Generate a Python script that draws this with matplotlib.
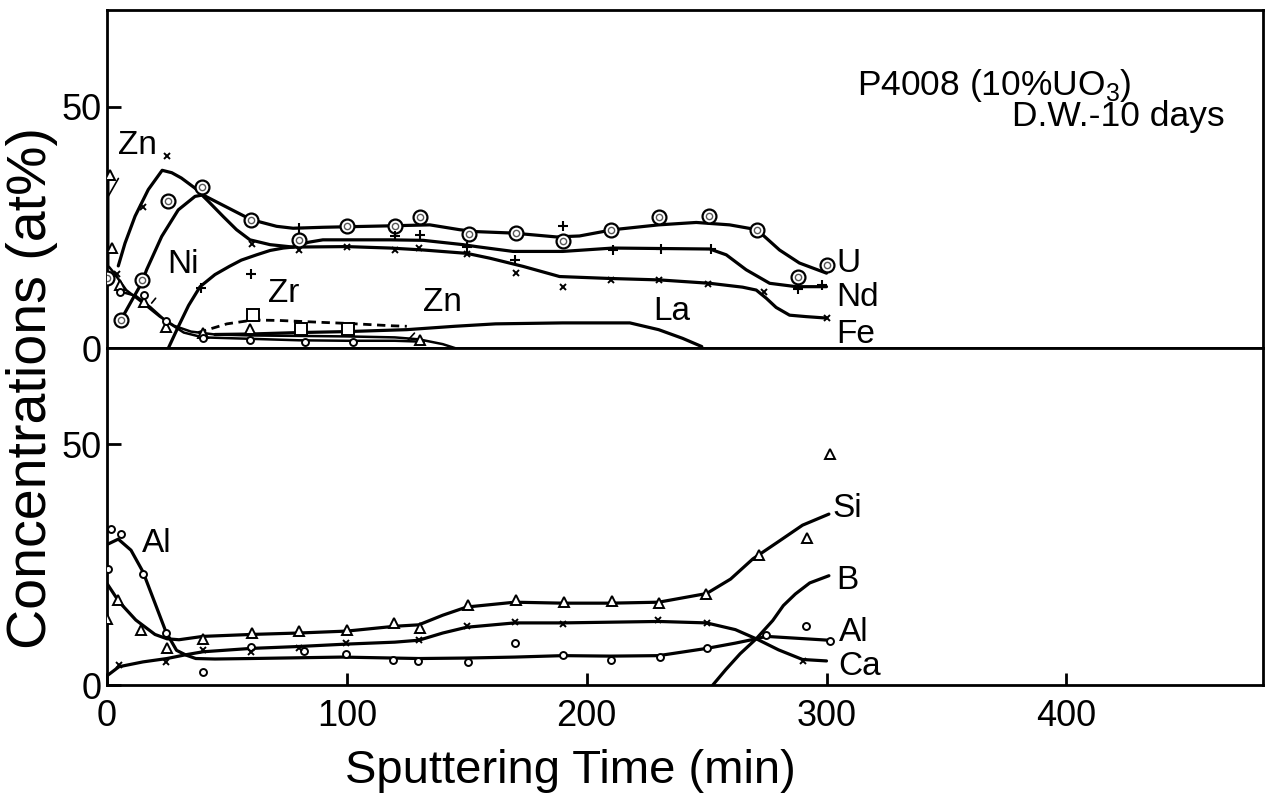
import matplotlib
matplotlib.use('Agg')
import matplotlib.pyplot as plt

plt.rcParams['font.family'] = ['Liberation Sans', 'DejaVu Sans']
plt.rcParams['mathtext.fontset'] = 'custom'
plt.rcParams['mathtext.rm'] = 'Liberation Sans'

# ---- upper panel: U, Nd, Fe, Zn, Ni, Zr, La ----
u_x = [0, 6, 14.4, 25.5, 39.7, 60, 80, 100, 120, 130.4, 150.8, 170.4, 190, 210, 230, 251, 271, 288, 300]
u_y = [14.5, 5.7, 14.1, 30.5, 33.4, 26.6, 22.4, 25.3, 25.2, 27.2, 23.6, 23.9, 22.2, 24.5, 27.2, 27.4, 24.5, 14.8, 17.2]
u_line_x = [6, 10.5, 14.5, 16.5, 22.8, 29.7, 36.7, 40, 49, 60, 70.7, 77.6, 90, 118, 134.6, 147, 154,
            169.3, 187.4, 197, 211, 230, 245.7, 259.6, 271, 280.4, 288.7, 300]
u_line_y = [6.0, 10, 13.5, 16.2, 23.1, 28.6, 31.4, 31.7, 29.4, 26.6, 25.2, 24.8, 25.0, 25.3, 25.5, 24.5, 24.1,
            23.8, 23.0, 23.2, 24.5, 25.5, 26.0, 25.5, 24.5, 20.3, 17.6, 15.5]

fe_x = [4, 15, 25, 60.4, 80, 100, 120, 130, 150, 170.4, 190, 210, 230, 250.4, 274, 300]
fe_y = [15.3, 29.1, 39.7, 21.6, 20.3, 21, 20.3, 20.7, 19.5, 15.6, 12.7, 14.1, 14.1, 13.3, 11.6, 6.2]
fe_line_x = [4.7, 7.5, 11.7, 17.2, 23, 27, 31, 36.7, 42, 48.5, 54, 59.6, 68, 77.6, 100, 118, 131.8, 150,
             159.6, 173.5, 188.7, 209.6, 230.4, 251.3, 265, 270.7, 274.9, 279, 284.6, 291.5, 300]
fe_line_y = [17, 21.7, 27.3, 32.8, 36.8, 36.3, 35.2, 33.1, 30.5, 27.2, 24.5, 22.4, 21.4, 20.9, 21, 20.7, 20.3, 19.6,
             18.6, 16.9, 14.8, 14.4, 14.1, 13.4, 12.6, 12, 10.3, 8.4, 6.8, 6.5, 6.2]

nd_x = [39, 60, 80, 120, 130.7, 150, 170, 190, 211, 231, 251.7, 288, 298]
nd_y = [12.4, 15.4, 24.8, 23.1, 23.4, 21, 18.3, 25.3, 20.3, 20.5, 20.5, 12.2, 13.1]
nd_line_x = [25.6, 29.7, 34, 38.8, 45, 51, 56, 62.4, 68, 73.5, 77.6, 84, 90, 118, 131.8, 148.5, 154,
             169.3, 190, 211, 251.3, 258.2, 266.5, 276.3, 287.4, 300]
nd_line_y = [0, 4.4, 8.8, 12.7, 15.2, 16.9, 18.2, 19.3, 20.2, 20.7, 20.9, 21.9, 22.4, 22.4, 22.3, 21.4, 21.0,
             20.0, 20.0, 20.7, 20.5, 19.3, 16.2, 13.4, 12.7, 12.7]

zn_x = [1.2, 1.9, 5.4, 15.5, 24.4, 40, 59.6, 130.4]
zn_y = [35.9, 20.7, 13.1, 9.6, 4.4, 3.2, 3.9, 1.7]
zn_line_x = [0.5, 0.5, 3, 8, 15, 22, 28, 35, 45, 60, 80, 100, 120, 130, 140, 145]
zn_line_y = [35, 17, 15.5, 12, 9.3, 6.5, 4.6, 3.4, 2.8, 2.6, 2.5, 2.4, 2.2, 1.8, 0.8, 0]

ni_x = [5.4, 15.5, 24.4, 40, 59.6, 82.5, 102.6]
ni_y = [11.7, 11.0, 5.5, 2.0, 1.7, 1.3, 1.3]
ni_line_x = [5.5, 12, 18, 24.5, 32, 40, 60, 80, 100, 120, 132]
ni_line_y = [11.7, 10.8, 8.5, 5.6, 3.2, 2.2, 1.9, 1.6, 1.5, 1.5, 1.3]

zr_x = [61, 81, 100.6]
zr_y = [6.8, 3.9, 3.9]
zr_line_x = [38, 50, 61, 72, 90, 100, 119, 125]
zr_line_y = [3.2, 5.0, 5.8, 5.7, 5.3, 5.1, 4.6, 4.5]

la_line_x = [45, 60, 80, 100, 125, 145, 162, 190, 218, 230, 240, 248]
la_line_y = [2.8, 2.9, 3.2, 3.4, 3.8, 4.5, 5.0, 5.2, 5.2, 3.8, 2.0, 0.3]

# ---- lower panel: Si, B, Al, Ca ----
si_x = [0.1, 4.7, 14, 24.9, 40, 60.3, 80, 99.9, 119.6, 130.4, 150.5, 170.4, 190.5, 210.7, 230, 249.9, 271.8, 291.8, 301.3]
si_y = [13.8, 17.6, 11.5, 7.7, 9.6, 10.7, 11.2, 11.4, 12.9, 11.9, 16.7, 17.7, 17.2, 17.4, 17.0, 18.9, 27.1, 30.5, 48.0]
si_line_x = [0.1, 5, 12, 20, 25, 30, 40, 60, 80, 100, 120, 130, 140, 150, 170, 190, 210, 230, 250, 260, 269.3, 280, 290, 301]
si_line_y = [21, 17.3, 13.5, 10.5, 9.6, 9.4, 10.1, 10.5, 10.8, 11.2, 12.2, 12.5, 14.5, 16.2, 17.2, 17.0, 17.0, 17.2,
             19.0, 22, 26.2, 29.8, 33.2, 35.5]

al_x = [0.5, 1.5, 5.7, 15, 24.6, 40, 60, 82, 99.6, 119.3, 129.7, 150.5, 170, 190, 210, 230.4, 250, 274.9, 291.5, 301.3]
al_y = [24.1, 32.4, 31.3, 23.1, 10.7, 2.75, 7.9, 7.0, 6.5, 5.2, 5.0, 4.8, 8.7, 6.2, 5.2, 5.9, 7.6, 10.3, 12.2, 9.2]
al_line_x = [0.5, 4.7, 10, 15, 20, 24.6, 29, 33, 37, 45, 60, 98, 130, 150, 170, 190, 210, 230, 250, 262, 270.7, 274.9, 301]
al_line_y = [29.3, 30.3, 28.0, 23.5, 17.0, 11.0, 7.2, 6.2, 5.5, 5.4, 5.5, 5.8, 5.5, 5.6, 5.8, 6.1, 6.0, 6.1, 7.6, 8.7,
             9.6, 10.1, 9.3]

ca_x = [5, 24.6, 40, 60, 80, 99.6, 130, 150, 170, 190, 229.7, 250, 290]
ca_y = [4.1, 4.8, 7.2, 6.8, 7.6, 8.7, 9.3, 12.2, 13.1, 12.7, 13.6, 12.9, 5.0]
ca_line_x = [0.5, 5, 15, 25, 33, 40, 60, 80, 100, 120, 130, 140, 150, 170, 190, 230, 250, 262, 270.7, 280, 290, 300]
ca_line_y = [2.1, 3.8, 4.8, 5.5, 6.3, 6.9, 7.6, 8.0, 8.5, 8.9, 9.3, 10.8, 12.0, 12.9, 12.9, 13.2, 12.9, 11.5, 9.6,
             7.3, 5.3, 5.0]

b_line_x = [252.6, 258, 264, 270.7, 277.6, 282, 287, 293, 301]
b_line_y = [0.0, 3.2, 6.5, 9.6, 13.4, 16.5, 18.9, 21.2, 22.7]

x_ticks = [0, 100, 200, 300, 400]
y_ticks = [0, 50]

fig = plt.figure(figsize=(12.71, 7.98), dpi=100)
ax1 = fig.add_axes([0.0842, 0.5639, 0.9095, 0.4236])
ax2 = fig.add_axes([0.0842, 0.1416, 0.9095, 0.4223])

LW = 2.3
line_kw = dict(color='black', lw=LW, solid_capstyle='round', solid_joinstyle='round', zorder=2)
mk_kw = dict(ls='none', color='black', mfc='white', zorder=3)

# upper panel
ax1.plot(u_line_x, u_line_y, **line_kw)
ax1.plot(fe_line_x, fe_line_y, **line_kw)
ax1.plot(nd_line_x, nd_line_y, **line_kw)
ax1.plot(zn_line_x, zn_line_y, color='black', lw=1.8, zorder=2)
ax1.plot(ni_line_x, ni_line_y, color='black', lw=1.8, zorder=2)
ax1.plot(la_line_x, la_line_y, **line_kw)
ax1.plot(zr_line_x, zr_line_y, color='black', lw=2.0, ls=(0, (3, 2)), zorder=2)

ax1.plot(u_x, u_y, marker='o', ms=10, mew=1.6, **mk_kw)
ax1.plot(u_x, u_y, marker='o', ms=4.5, mew=1.0, ls='none', color='0.35', mfc='none', zorder=4)
ax1.plot(fe_x, fe_y, marker='x', ms=5, mew=1.4, **mk_kw)
ax1.plot(nd_x, nd_y, marker='+', ms=7, mew=1.5, **mk_kw)
ax1.plot(zn_x, zn_y, marker='^', ms=7.5, mew=1.4, **mk_kw)
ax1.plot(ni_x, ni_y, marker='o', ms=5, mew=1.4, **mk_kw)
ax1.plot(zr_x, zr_y, marker='s', ms=8, mew=1.4, **mk_kw)

# lower panel
ax2.plot(si_line_x, si_line_y, **line_kw)
ax2.plot(al_line_x, al_line_y, **line_kw)
ax2.plot(ca_line_x, ca_line_y, **line_kw)
ax2.plot(b_line_x, b_line_y, **line_kw)

ax2.plot(si_x, si_y, marker='^', ms=7.5, mew=1.4, **mk_kw)
ax2.plot(al_x, al_y, marker='o', ms=5, mew=1.4, **mk_kw)
ax2.plot(ca_x, ca_y, marker='x', ms=5, mew=1.4, **mk_kw)

LFS = 24
for ax in (ax1, ax2):
    ax.set_xlim(0, 482)
    ax.set_ylim(0, 70)
    ax.set_yticks(y_ticks)
    ax.tick_params(axis='y', direction='in', length=10, width=2, labelsize=26, pad=4)
    for s in ax.spines.values():
        s.set_linewidth(2)

ax1.set_xticks([])
ax2.set_xticks(x_ticks)
ax2.tick_params(axis='x', direction='in', length=9, width=2, labelsize=26, pad=10)

# element labels, upper panel
ax1.text(304, 17.6, 'U', fontsize=LFS, va='center')
ax1.text(304, 10.4, 'Nd', fontsize=LFS, va='center')
ax1.text(304, 2.9, 'Fe', fontsize=LFS, va='center')
ax1.text(235.4, 7.5, 'La', fontsize=LFS, va='center', ha='center')
ax1.text(73.8, 11.3, 'Zr', fontsize=LFS, va='center', ha='center')
ax1.annotate('Zn', xy=(0.5, 31.4), xytext=(12.5, 41.9), fontsize=LFS, ha='center', va='center',
             arrowprops=dict(arrowstyle='-', lw=1.2, color='black', shrinkA=12, shrinkB=0))
ax1.annotate('Ni', xy=(18.6, 9.3), xytext=(31.7, 17.2), fontsize=LFS, ha='center', va='center',
             arrowprops=dict(arrowstyle='-', lw=1.2, color='black', shrinkA=14, shrinkB=0))
ax1.annotate('Zn', xy=(125.6, 1.7), xytext=(140, 9.4), fontsize=LFS, ha='center', va='center',
             arrowprops=dict(arrowstyle='-', lw=1.2, color='black', shrinkA=12, shrinkB=0))

ax1.text(312.9, 52.4, 'P4008 (10%UO$_3$)', fontsize=25.5, va='baseline')
ax1.text(377.5, 46.0, 'D.W.-10 days', fontsize=25.5, va='baseline')

# element labels, lower panel
ax2.text(20.8, 29.4, 'Al', fontsize=LFS, va='center', ha='center')
ax2.text(302.5, 36.6, 'Si', fontsize=LFS, va='center')
ax2.text(304, 21.7, 'B', fontsize=LFS, va='center')
ax2.text(305, 11.0, 'Al', fontsize=LFS, va='center')
ax2.text(305, 3.9, 'Ca', fontsize=LFS, va='center')

ax2.set_xlabel('Sputtering Time (min)', fontsize=34)
ax2.xaxis.set_label_coords(0.401, -0.19)
fig.text(0.025, 0.514, 'Concentrations (at%)', fontsize=40, rotation=90, va='center', ha='center')

fig.savefig('out.png', dpi=100)
